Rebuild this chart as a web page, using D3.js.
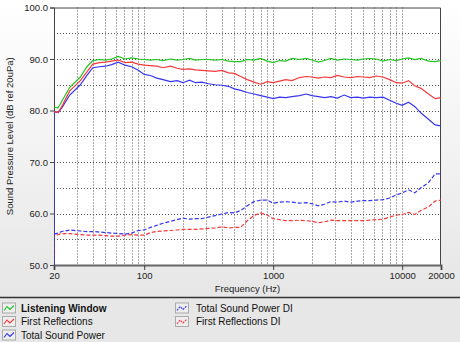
<!DOCTYPE html>
<html><head><meta charset="utf-8">
<script src="https://cdn.jsdelivr.net/npm/d3@7"></script>
<style>html,body{margin:0;padding:0;background:#fff;}svg{display:block;}</style>
</head><body>
<script>
const freqs = [20,20,21.5,23,26.5,32,36,40,45,50,56,63,71,80,90,100,112,125,140,160,180,200,225,250,280,315,355,400,450,500,560,630,710,800,900,1000,1120,1250,1400,1600,1800,2000,2240,2500,2800,3150,3550,4000,4500,5000,5600,6300,7100,8000,9000,10000,11200,12500,14000,16000,18000,20000];
const listeningWindow = [80.6,80.6,80.5,81.8,84.5,86.5,88.5,89.7,89.9,89.8,90.0,90.5,90.0,90.2,90.0,89.9,89.8,89.9,89.7,90.0,89.8,89.9,90.1,89.8,89.9,89.9,89.8,89.9,89.6,89.5,89.5,89.9,89.8,90.1,89.6,89.3,89.7,89.6,90.1,89.9,90.1,89.8,89.4,89.7,90.1,89.8,90.0,89.9,89.8,90.0,90.1,90.0,89.6,89.9,89.7,90.0,90.2,89.9,90.1,89.6,89.5,89.7];
const firstReflections = [79.8,79.8,79.6,80.8,83.8,85.8,87.5,89.0,89.3,89.4,89.6,89.8,89.3,89.4,89.0,88.8,88.7,88.6,88.3,88.6,88.2,88.0,88.1,87.9,87.8,87.7,87.6,87.8,87.3,87.2,86.6,86.0,85.5,85.1,85.6,85.4,85.7,86.0,85.8,86.4,86.6,86.5,86.3,86.5,86.4,86.8,86.5,86.4,86.6,86.5,86.4,86.7,86.5,86.0,85.4,85.3,85.8,84.8,84.3,83.2,82.3,82.5];
const totalSoundPower = [40,79.8,79.6,80.5,83.0,85.0,86.8,88.3,88.5,88.6,88.9,89.4,88.8,88.5,87.8,87.0,86.8,86.3,86.0,85.6,85.8,85.4,85.9,85.4,85.5,85.2,85.0,84.9,84.7,84.2,83.9,83.5,83.2,82.9,82.6,82.3,82.6,82.5,82.7,82.9,83.2,82.9,82.7,82.5,82.7,82.4,83.0,82.5,82.6,82.4,82.6,82.5,82.6,82.0,81.4,81.0,81.6,80.8,79.5,78.3,77.2,77.0];
const totalSoundPowerDI = [56.0,56.0,56.2,56.5,56.8,56.6,56.5,56.5,56.4,56.3,56.2,56.1,56.0,56.2,56.7,56.8,57.3,57.7,58.1,58.5,58.8,59.1,58.9,59.0,59.0,59.3,59.6,59.9,60.2,60.1,60.6,61.5,62.3,62.6,62.6,62.0,62.2,62.3,62.2,62.0,62.1,61.9,61.5,61.8,62.3,62.2,62.4,62.2,62.4,62.5,62.5,62.6,62.7,63.0,63.6,64.0,64.6,64.0,65.0,66.0,67.7,67.7];
const firstReflectionsDI = [40,55.8,55.9,56.1,56.1,55.9,55.8,55.8,55.8,55.7,55.6,55.6,55.8,55.9,55.8,55.8,56.3,56.5,56.6,56.7,56.8,56.9,56.9,56.9,57.0,57.1,57.2,57.4,57.2,57.3,57.3,58.6,59.6,60.1,59.7,59.0,58.8,58.6,58.6,58.7,58.6,58.5,58.2,58.4,58.7,58.6,58.6,58.6,58.6,58.6,58.7,58.8,58.9,59.3,59.7,59.8,60.2,59.8,60.6,61.3,62.4,62.6];
const yTicks = [50,60,70,80,90,100];
const yGrid = [55,60,65,70,75,80,85,90,95];
const xTickLabels = [20,100,1000,10000,20000];
const xGrid = [30,40,50,60,70,80,90,100,200,300,400,500,600,700,800,900,1000,2000,3000,4000,5000,6000,7000,8000,9000,10000];
const seriesNames = ["Listening Window","First Reflections","Total Sound Power","Total Sound Power DI","First Reflections DI"];

const W = 460, H = 342;
const m = {left:54, right:19, top:7.5, bottom:77};
const svg = d3.select("body").append("svg").attr("width", W).attr("height", H)
  .style("font-family","'Liberation Sans', Arial, sans-serif");
const defs = svg.append("defs");
const bg = defs.append("linearGradient").attr("id","bg").attr("x1",0).attr("y1",0).attr("x2",0).attr("y2",1);
bg.append("stop").attr("offset","0%").attr("stop-color","#ffffff");
bg.append("stop").attr("offset","100%").attr("stop-color","#e6e6e6");
svg.append("rect").attr("width",W).attr("height",297).attr("fill","url(#bg)");
svg.append("rect").attr("y",297).attr("width",W).attr("height",H-297).attr("fill","#e7e7e7");

const x = d3.scaleLog().domain([20,20000]).range([m.left, W-m.right]);
const y = d3.scaleLinear().domain([50,100]).range([H-m.bottom, m.top]);

svg.append("rect").attr("x",x(20)).attr("y",y(100)).attr("width",x(20000)-x(20)).attr("height",y(50)-y(100)).attr("fill","#fff");
defs.append("clipPath").attr("id","clip").append("rect").attr("x",x(20)).attr("y",y(100)).attr("width",x(20000)-x(20)).attr("height",y(50)-y(100));

const grid = svg.append("g").attr("stroke","#555").attr("stroke-width",1).attr("stroke-dasharray","1,2");
grid.selectAll(".hg").data(yGrid).join("line").attr("x1",x(20)).attr("x2",x(20000))
  .attr("y1",d=>Math.round(y(d))+0.5).attr("y2",d=>Math.round(y(d))+0.5);
grid.selectAll(".vg").data(xGrid).join("line").attr("y1",y(100)).attr("y2",y(50))
  .attr("x1",d=>Math.round(x(d))+0.5).attr("x2",d=>Math.round(x(d))+0.5);

svg.append("path").attr("d",`M${x(20)},${y(100)+0.5}H${x(20000)-0.5}V${y(50)}`).attr("fill","none").attr("stroke","#444").attr("stroke-width",1);

const ya = svg.append("g").attr("transform",`translate(${x(20)},0)`)
  .call(d3.axisLeft(y).tickValues(yTicks).tickFormat(d3.format(".1f")).tickSize(4).tickPadding(2));
ya.select(".domain").attr("stroke","#444");
ya.selectAll(".tick line").attr("stroke","#444");
ya.selectAll("text").attr("fill","#222").style("font-size","9.5px");

const xa = svg.append("g").attr("transform",`translate(0,${y(50)})`)
  .call(d3.axisBottom(x).tickValues(xTickLabels).tickFormat(d3.format("d")).tickSize(5).tickPadding(2));
xa.select(".domain").attr("stroke","#666").attr("stroke-width",2);
xa.selectAll(".tick line").attr("stroke","#444");
xa.selectAll("text").attr("fill","#222").style("font-size","9.5px");

svg.append("text").attr("x",(x(20)+x(20000))/2).attr("y",292).attr("text-anchor","middle")
  .style("font-size","9.5px").attr("fill","#222").text("Frequency (Hz)");
svg.append("text").attr("transform",`translate(13,${(y(50)+y(100))/2}) rotate(-90)`).attr("text-anchor","middle")
  .style("font-size","9.5px").attr("fill","#222").text("Sound Pressure Level (dB ref 20uPa)");

svg.append("line").attr("x1",0).attr("x2",W).attr("y1",297.5).attr("y2",297.5).attr("stroke","#333").attr("stroke-width",1.5);

const colors = ["#22c322","#f23a3a","#3636f0","#3636f0","#f23a3a"];
const dashes = [null,null,null,"4,2","4,2"];
const data = [listeningWindow, firstReflections, totalSoundPower, totalSoundPowerDI, firstReflectionsDI];
const line = d3.line().x((d,i)=>x(freqs[i])).y(d=>y(d));
const lines = svg.append("g").attr("clip-path","url(#clip)");
[4,3,2,1,0].forEach(k=>{
  lines.append("path").datum(data[k]).attr("d",line).attr("fill","none")
    .attr("stroke",colors[k]).attr("stroke-width",1.2).attr("stroke-dasharray",dashes[k]);
});

const legPos = [[2,311.5],[2,325],[2,338.5],[175,311.5],[175,325]];
seriesNames.forEach((n,k)=>{
  const [lx,ly] = legPos[k];
  const g = svg.append("g").attr("transform",`translate(${lx},${ly})`);
  g.append("rect").attr("x",0.5).attr("y",-8.5).attr("width",13).attr("height",10).attr("fill","#eee").attr("stroke","#aaa");
  g.append("path").attr("d","M2,-1L5,-5L8,-2L12,-6").attr("fill","none").attr("stroke",colors[k]).attr("stroke-width",1.1)
    .attr("stroke-dasharray", k>=3 ? "2,1" : null);
  g.append("text").attr("x",k>=3?21:19).attr("y",0).style("font-size","10px").attr("fill","#111")
    .style("font-weight",k===0?"bold":"normal").text(n);
});
</script>
</body></html>
